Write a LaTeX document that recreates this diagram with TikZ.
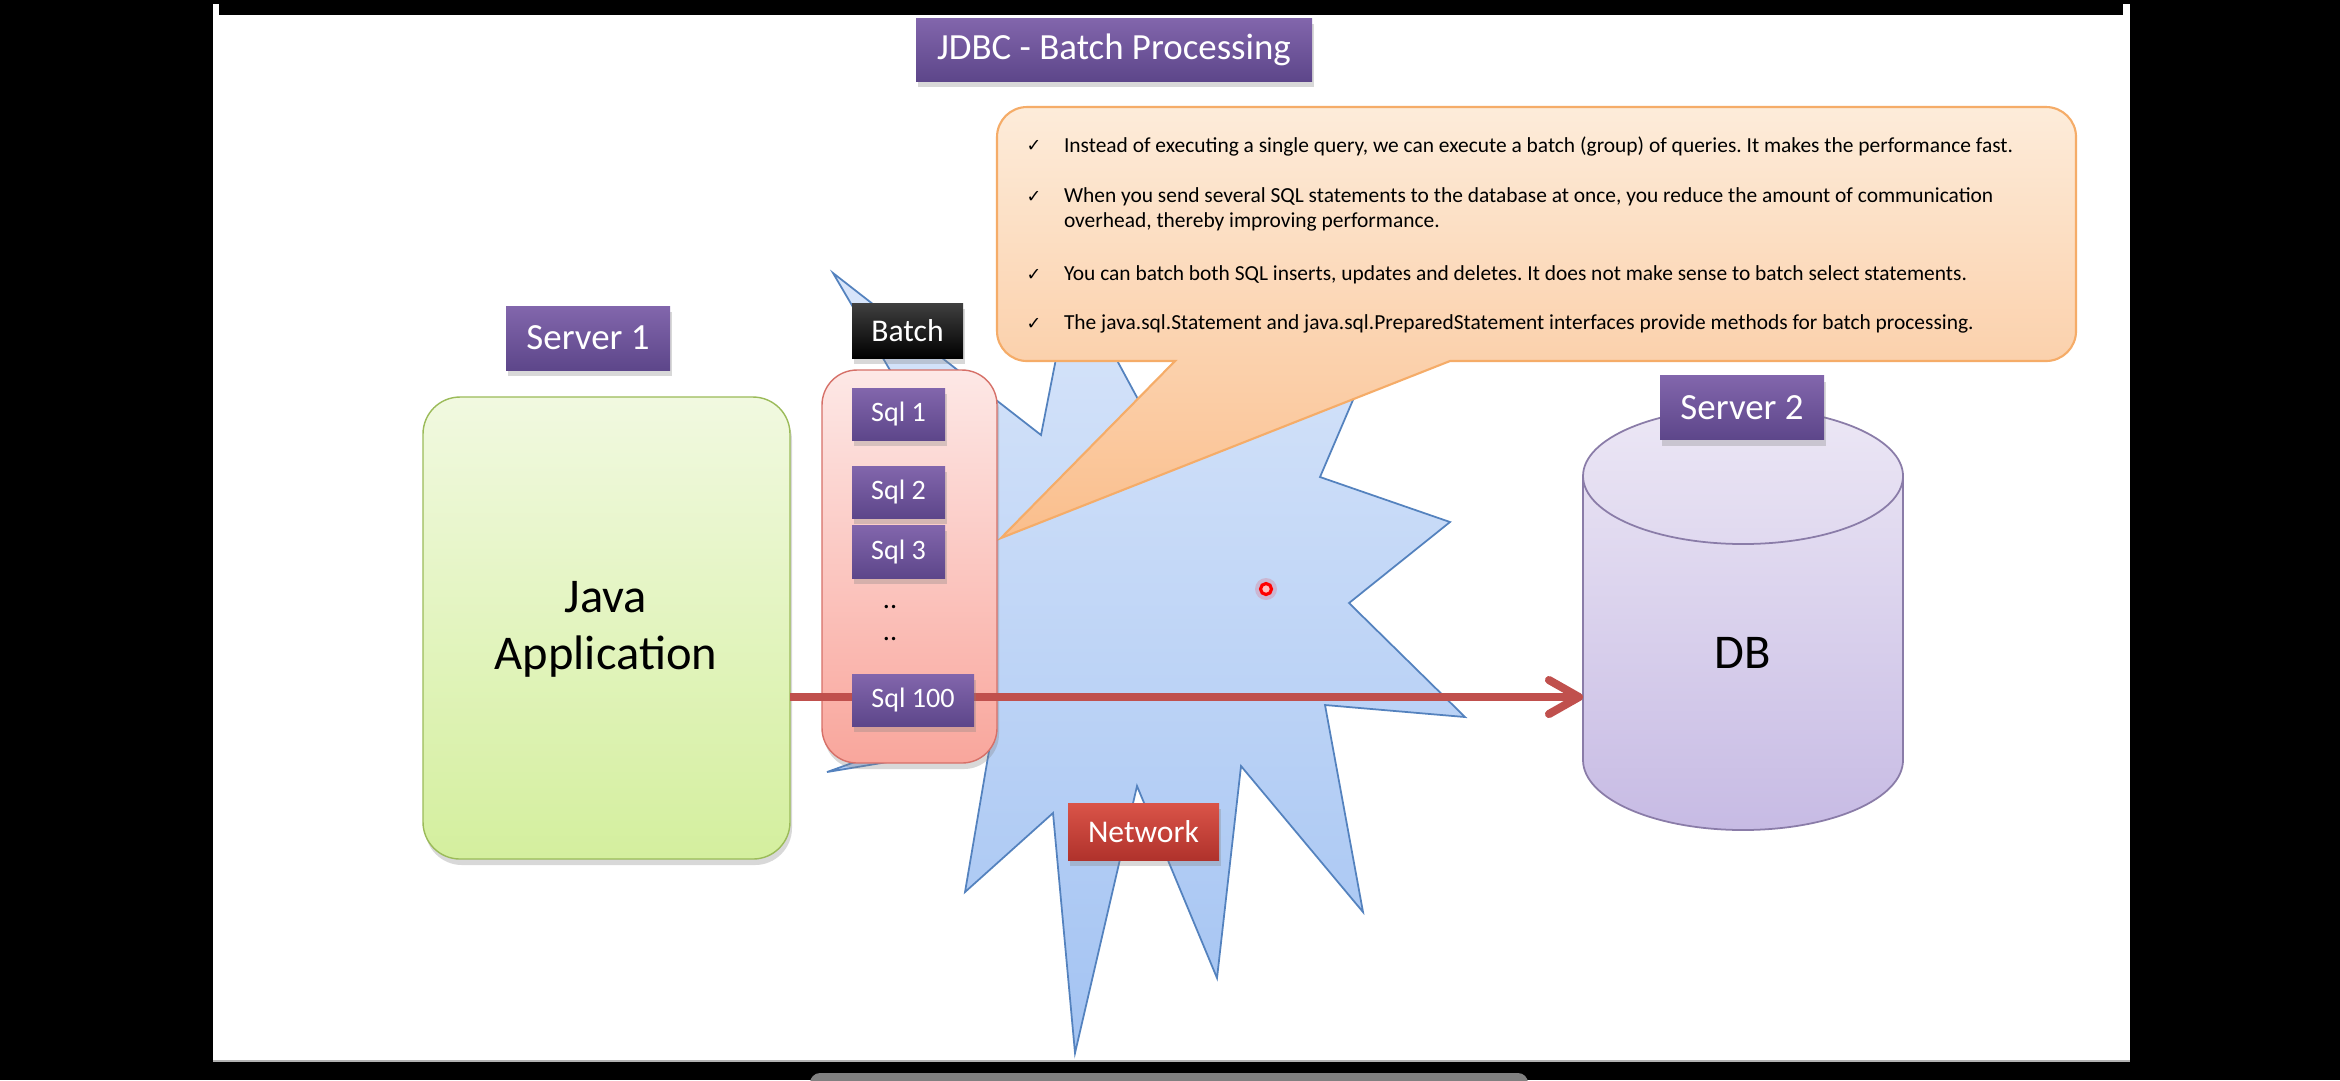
\documentclass[tikz,border=0pt]{standalone}
\usepackage{fontspec}
\setmainfont{Carlito}
\newfontfamily\chkfont{DejaVu Sans}
\usetikzlibrary{arrows.meta,shadows}
\frenchspacing

\definecolor{lblTop}{RGB}{130,102,172}
\definecolor{lblBot}{RGB}{93,70,138}
\definecolor{netTop}{RGB}{218,84,72}
\definecolor{netBot}{RGB}{176,50,44}
\definecolor{appTop}{RGB}{241,249,224}
\definecolor{appBot}{RGB}{212,239,158}
\definecolor{appLine}{RGB}{155,187,89}
\definecolor{pinkTop}{RGB}{253,232,230}
\definecolor{pinkBot}{RGB}{249,166,156}
\definecolor{pinkLine}{RGB}{214,112,104}
\definecolor{noteTop}{RGB}{253,236,218}
\definecolor{noteBot}{RGB}{250,190,140}
\definecolor{noteLine}{RGB}{245,172,104}
\definecolor{burstTop}{RGB}{216,229,250}
\definecolor{burstBot}{RGB}{163,195,242}
\definecolor{burstLine}{RGB}{84,130,190}
\definecolor{dbTop}{RGB}{236,231,245}
\definecolor{dbBot}{RGB}{199,187,228}
\definecolor{dbLine}{RGB}{138,124,168}
\definecolor{flowRed}{RGB}{192,80,77}

\newcommand\lblsize{\fontsize{10.5}{12}\selectfont}
\newcommand\sqlsize{\fontsize{8}{9.6}\selectfont}
\newcommand\notesize{\fontsize{6.1}{7.1}\selectfont}
\newcommand\bigsize{\fontsize{13.8}{16.2}\selectfont}

\begin{document}
\begin{tikzpicture}[x=0.1mm, y=-0.1mm]
\tikzset{ >={Straight Barb[length=3mm,width=3.4mm,round]}, inner sep=0pt, outer sep=0pt,
  shade/.style={drop shadow={opacity=0.3, shadow xshift=0.2mm, shadow yshift=-0.6mm}},
  purplebox/.style={shade, top color=lblTop, bottom color=lblBot, text=white},
  lbl/.style={purplebox, font=\lblsize, minimum width=16.4mm, minimum height=6.4mm},
  sqlbox/.style={purplebox, font=\sqlsize, minimum width=9.3mm, minimum height=5.2mm},
  note/.style={anchor=west, font=\notesize, align=left},
  chk/.style={font=\chkfont\fontsize{5}{6}\selectfont},
  flow/.style={->, flowRed, line width=2.3pt},
}
\useasboundingbox (0,0) rectangle (2340,1080);
\fill [black] (0,0) rectangle (2340,1080);
\fill [white] (213,4) rectangle (2130,1062);
\fill [black] (219,0) rectangle (2123,15);
\draw [gray!60] (213,1061) -- (2130,1061);
\fill [gray, rounded corners=1mm] (810,1073) rectangle (1528,1095);

% network burst
\draw [burstLine, top color=burstTop, bottom color=burstBot, line width=0.5pt]
  (833,273) -- (1041,435) -- (1072,277) -- (1160,440) -- (1400,290) -- (1320,477)
  -- (1450,522) -- (1349,603) -- (1465,717) -- (1325,705) -- (1363,912) -- (1241,766)
  -- (1217,978) -- (1137,786) -- (1075,1053) -- (1053,813) -- (965,892) -- (990,745)
  -- (827,772) -- (930,735) -- (845,560) -- (931,440) -- cycle;

% callout
\draw [noteLine, top color=noteTop, bottom color=noteBot, line width=0.6pt]
  (1001,538) -- (1175,361) [rounded corners=3mm] -- (997,361) -- (997,107)
  -- (2076,107) -- (2076,361) [sharp corners] -- (1450,361) -- cycle;

\node [chk] (c1) at (1034,146) {✓};
\node [chk] (c2) at (1034,197) {✓};
\node [chk] (c3) at (1034,275) {✓};
\node [chk] (c4) at (1034,324) {✓};
\node [note] (b1) at (1064,146) {Instead of executing a single query, we can execute a batch (group) of queries. It makes the performance fast.};
\node [note] (b2) at (1064,209.5) {When you send several SQL statements to the database at once, you reduce the amount of communication\\overhead, thereby improving performance.};
\node [note] (b3) at (1064,275) {You can batch both SQL inserts, updates and deletes. It does not make sense to batch select statements.};
\node [note] (b4) at (1064,324) {The java.sql.Statement and java.sql.PreparedStatement interfaces provide methods for batch processing.};

\node [lbl, minimum width=39.6mm, minimum height=6.3mm] (title) at (1114,49.5) {JDBC - Batch Processing};

% server 1
\node [lbl] (server1) at (588,338) {Server 1};
\node [draw=appLine, top color=appTop, bottom color=appBot, rounded corners=3.7mm,
       minimum width=36.7mm, minimum height=46.2mm, shade] (java) at (606.5,628) {};
\node [font=\bigsize, align=center] (javatxt) at (606,629) {Java\\Application};

% batch
\node [draw=pinkLine, top color=pinkTop, bottom color=pinkBot, rounded corners=3.5mm,
       minimum width=17.5mm, minimum height=39.3mm, shade] (batchbox) at (909.5,566.5) {};
\node [shade, top color=black!75, bottom color=black, text=white, font=\fontsize{9}{10.8}\selectfont,
       minimum width=11.1mm, minimum height=5.5mm] (batchlbl) at (907.5,330.5) {Batch};

% server 2
\draw [dbLine, top color=dbTop, bottom color=dbBot, line width=0.5pt]
  (1583,476) -- (1583,760) arc (180:0:160 and 70) -- (1903,476) arc (0:-180:160 and 68) -- cycle;
\draw [dbLine, line width=0.5pt] (1583,476) arc (180:0:160 and 68);
\node [font=\bigsize] (db) at (1743,653) {DB};
\coordinate (dbside) at (1583,697);
\coordinate (row) at (0,697);

\draw [flow] (java.east |- row) -- (dbside);

\node [sqlbox] (sql1) at (898.5,414) {Sql 1};
\node [sqlbox] (sql2) at (898.5,492) {Sql 2};
\node [sqlbox, minimum height=5.3mm] (sql3) at (898.5,551.5) {Sql 3};
\node [font=\sqlsize] (dots1) at (890,607) {..};
\node [font=\sqlsize] (dots2) at (890,639) {..};
\node [sqlbox, minimum width=12.2mm] (sql100) at (913,700) {Sql 100};

\node [shade, top color=netTop, bottom color=netBot, text=white, font=\fontsize{9}{10.8}\selectfont,
       minimum width=15.1mm, minimum height=5.7mm] (network) at (1143.5,831.5) {Network};

\node [lbl] (server2) at (1742,407.5) {Server 2};

\fill [red, opacity=0.15] (1266,589) circle [radius=1.1mm];
\node [circle, draw=red, line width=0.9pt, fill=red!25, minimum size=1.1mm] (pointer) at (1266,589) {};

\end{tikzpicture}
\end{document}
